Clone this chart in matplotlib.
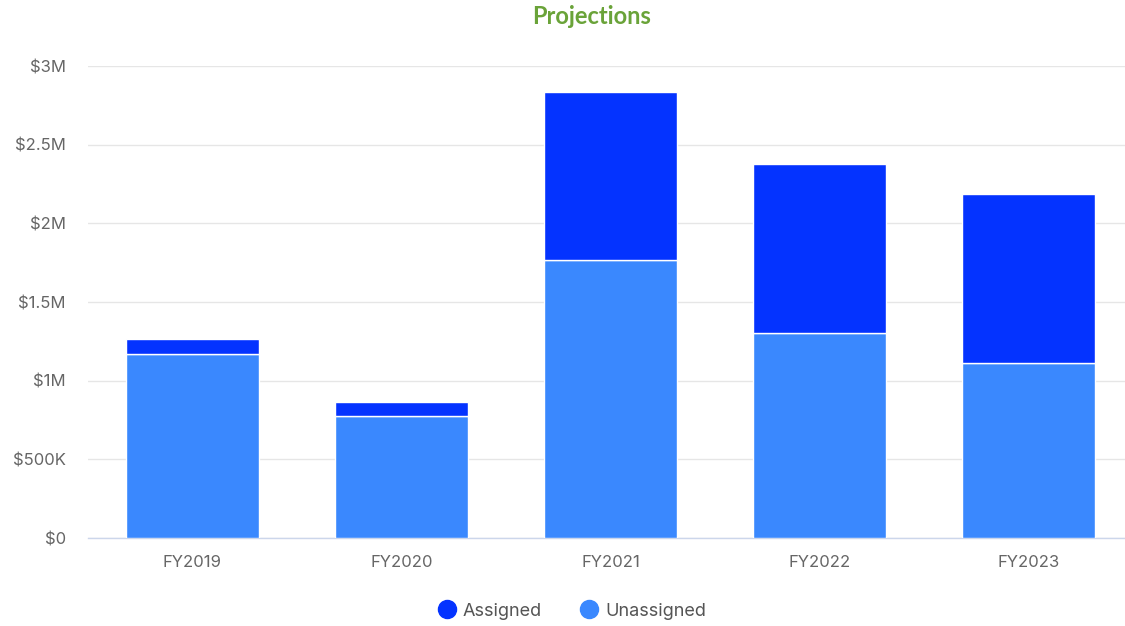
import matplotlib
matplotlib.use("Agg")
import matplotlib.pyplot as plt
from matplotlib.lines import Line2D

categories = ["FY2019", "FY2020", "FY2021", "FY2022", "FY2023"]
unassigned = [1.169e6, 0.773e6, 1.765e6, 1.305e6, 1.114e6]
assigned = [0.094e6, 0.091e6, 1.072e6, 1.074e6, 1.072e6]
yticks = [0, 500000, 1000000, 1500000, 2000000, 2500000, 3000000]
ytick_labels = ["$0", "$500K", "$1M", "$1.5M", "$2M", "$2.5M", "$3M"]

C_ASSIGNED = "#0433ff"
C_UNASSIGNED = "#3a88fe"
LABEL_FONT = ["Inter", "DejaVu Sans"]

W, H = 1125, 626
fig = plt.figure(figsize=(W / 100, H / 100), dpi=100)
ax = fig.add_axes([88 / W, (H - 538) / H, (1125 - 88) / W, (538 - 66) / H])

x = list(range(len(categories)))
ax.bar(x, unassigned, width=0.64, color=C_UNASSIGNED, edgecolor="white", linewidth=1, zorder=3)
ax.bar(x, assigned, bottom=unassigned, width=0.64, color=C_ASSIGNED, edgecolor="white", linewidth=1, zorder=3)

ax.set_xlim(-0.5, -0.5 + 1037 / 209)
ax.set_ylim(0, 3000000)
ax.set_yticks(yticks)
ax.set_yticklabels(ytick_labels)
ax.set_xticks(x)
ax.set_xticklabels(categories)

ax.grid(axis="y", color="#e6e6e6", linewidth=1, zorder=0)
ax.set_axisbelow(True)
for s in ["top", "right", "left"]:
    ax.spines[s].set_visible(False)
ax.spines["bottom"].set_color("#ccd6eb")
ax.spines["bottom"].set_linewidth(1)
ax.tick_params(axis="both", length=0, labelsize=12, labelcolor="#666666")
ax.tick_params(axis="x", pad=12.5)
ax.tick_params(axis="y", pad=16)
for lab in ax.get_xticklabels() + ax.get_yticklabels():
    lab.set_family(LABEL_FONT)

fig.text(592 / W, 1 - 16 / H, "Projections", ha="center", va="center",
         fontsize=17, fontweight="bold", color="#6aa339", family=["Lato", "DejaVu Sans"])

handles = [
    Line2D([0], [0], marker="o", linestyle="", markersize=13, markerfacecolor=C_ASSIGNED, markeredgecolor=C_ASSIGNED),
    Line2D([0], [0], marker="o", linestyle="", markersize=13, markerfacecolor=C_UNASSIGNED, markeredgecolor=C_UNASSIGNED),
]
leg = fig.legend(handles, ["Assigned", "Unassigned"], loc="center", bbox_to_anchor=(571 / W, 1 - 611 / H),
                 ncol=2, frameon=False, handletextpad=0.3, columnspacing=2.0, handlelength=1.2,
                 prop={"family": LABEL_FONT, "size": 13})
for t in leg.get_texts():
    t.set_color("#555555")

fig.savefig("out.png", dpi=100)
